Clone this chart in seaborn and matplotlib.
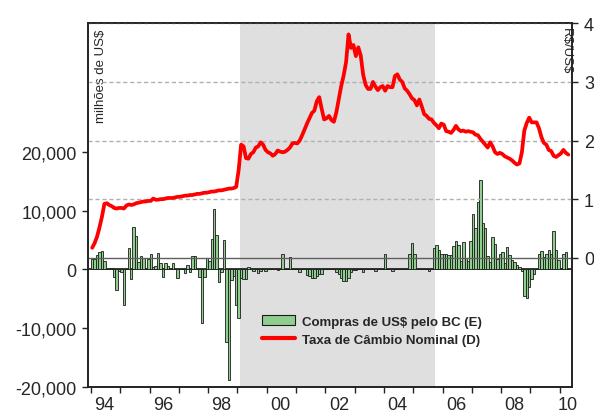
import numpy as np
import pandas as pd
import matplotlib
matplotlib.use("Agg")
import matplotlib.pyplot as plt
import seaborn as sns
from matplotlib.patches import Patch
from matplotlib.lines import Line2D

# monthly data, Jan 1994 - Apr 2010
start_month = "1994-01"

# BC purchases of US$ (millions), one row per year
compras = [
    1800, 1800, 2500, 3000, 3200, 1500, 0, 0, 250, -1200, -3500, -300,          # 1994
    -350, -6000, 0, 3600, -1600, 7300, 5700, 1300, 2300, 2000, 300, 1800,       # 1995
    2600, 500, 600, 2800, 1100, -1300, 1100, 600, 200, 1100, 0, -1400,          # 1996
    0, 0, -600, 700, -500, 2300, 2300, 0, -1200, -9100, -1200, 2000,            # 1997
    1400, 5200, 10300, 5900, -2200, -500, 5000, -12400, -18900, -1800, -1100, -6100,  # 1998
    -8300, -1400, -1600, -1700, 500, 0, -200, 0, -600, -300, 0, -200,           # 1999
    0, 0, 0, 0, -100, 0, 2600, 0, 0, 2100, 0, 0,                                # 2000
    0, -500, 0, 0, -1000, -1100, -1400, -1400, -1100, -850, -850, 0,            # 2001
    0, 100, 0, 0, -400, -700, -1400, -1900, -2000, -1400, -400, -150,           # 2002
    -150, 0, 0, -400, 0, 0, 0, 0, -200, 0, 0, 0,                                # 2003
    2700, 0, 0, -200, 0, 0, 0, 0, 0, 0, 2700, 4500,                             # 2004
    2700, 0, 0, 0, 0, 0, -200, 0, 3600, 4260, 3350, 2670,                       # 2005
    2560, 2560, 2440, 2500, 4030, 4940, 4260, 1530, 4710, 2000, 1500, 4940,     # 2006
    9490, 7100, 11530, 15280, 7950, 7100, 2270, 1300, 5500, 4370, 1870, 2560,   # 2007
    2900, 1190, 3800, 2400, 1700, 1300, 700, 400, -300, -4600, -4800, -3000,    # 2008
    -1700, -700, 0, 2700, 3200, 2100, 2600, 3400, 2600, 6600, 3400, 1600,       # 2009
    200, 2700, 2900, 0,                                                         # 2010
]

# nominal exchange rate R$/US$
cambio = [
    0.17, 0.25, 0.36, 0.52, 0.70, 0.92, 0.93, 0.90, 0.88, 0.85, 0.84, 0.85,     # 1994
    0.85, 0.84, 0.89, 0.91, 0.90, 0.91, 0.93, 0.94, 0.95, 0.96, 0.96, 0.97,     # 1995
    0.97, 1.01, 0.99, 0.99, 1.00, 1.00, 1.01, 1.02, 1.02, 1.02, 1.03, 1.04,     # 1996
    1.04, 1.05, 1.06, 1.06, 1.07, 1.07, 1.08, 1.09, 1.09, 1.10, 1.11, 1.11,     # 1997
    1.12, 1.13, 1.13, 1.14, 1.15, 1.15, 1.16, 1.17, 1.18, 1.18, 1.19, 1.21,     # 1998
    1.50, 1.93, 1.90, 1.70, 1.69, 1.77, 1.80, 1.88, 1.90, 1.97, 1.93, 1.84,     # 1999
    1.80, 1.78, 1.74, 1.77, 1.83, 1.81, 1.80, 1.81, 1.84, 1.88, 1.95, 1.96,     # 2000
    1.95, 2.00, 2.09, 2.19, 2.29, 2.38, 2.47, 2.51, 2.67, 2.74, 2.54, 2.36,     # 2001
    2.38, 2.42, 2.35, 2.32, 2.48, 2.71, 2.93, 3.11, 3.34, 3.81, 3.58, 3.63,     # 2002
    3.44, 3.59, 3.45, 3.12, 2.95, 2.88, 2.88, 3.00, 2.92, 2.86, 2.91, 2.93,     # 2003
    2.85, 2.93, 2.91, 2.91, 3.10, 3.13, 3.04, 3.00, 2.89, 2.85, 2.79, 2.72,     # 2004
    2.69, 2.60, 2.70, 2.58, 2.45, 2.42, 2.37, 2.36, 2.30, 2.26, 2.21, 2.29,     # 2005
    2.27, 2.16, 2.15, 2.13, 2.18, 2.25, 2.19, 2.16, 2.17, 2.15, 2.16, 2.15,     # 2006
    2.14, 2.10, 2.09, 2.03, 1.98, 1.93, 1.88, 1.97, 1.90, 1.80, 1.77, 1.79,     # 2007
    1.77, 1.73, 1.71, 1.69, 1.66, 1.62, 1.59, 1.61, 1.80, 2.17, 2.30, 2.39,     # 2008
    2.31, 2.31, 2.31, 2.21, 2.06, 1.96, 1.93, 1.84, 1.82, 1.74, 1.72, 1.75,     # 2009
    1.78, 1.84, 1.79, 1.76,                                                     # 2010
]

# shaded period (floating regime window)
shade_start = "1999-02"
shade_end = "2005-10"

years = list(range(1994, 2011))
label_years = [1994, 1996, 1998, 2000, 2002, 2004, 2006, 2008, 2010]
year_labels = ["94", "96", "98", "00", "02", "04", "06", "08", "10"]

legend_labels = ["Compras de US\\$ pelo BC (E)", "Taxa de Câmbio Nominal (D)"]

dates = pd.date_range(start_month, periods=len(compras), freq="MS")
df = pd.DataFrame({
    "t": dates.year + (dates.month - 0.5) / 12,
    "compras": compras,
    "cambio": cambio,
})


def to_year(s):
    d = pd.Timestamp(s)
    return d.year + (d.month - 1) / 12


sns.set_style("ticks")
plt.rcParams["font.family"] = ["Liberation Sans", "DejaVu Sans"]

bar_green = "#8fce8f"
frame_col = "#222222"

fig = plt.figure(figsize=(5.94, 4.14), dpi=100)
ax = fig.add_axes([0.1487, 0.0635, 0.8148, 0.8778])

ax.axvspan(to_year(shade_start), to_year(shade_end), color="#dfdfdf", lw=0, zorder=0)

sns.barplot(data=df, x="t", y="compras", native_scale=True, width=1.0,
            color=bar_green, saturation=1, edgecolor="#1a1a1a", linewidth=0.6,
            errorbar=None, ax=ax, zorder=3)
ax.axhline(0, color="black", lw=1.1, zorder=2)

ax.set_xlim(1993.91, 2010.43)
ax.set_ylim(-20000, 42000)
ax.set_yticks([-20000, -10000, 0, 10000, 20000])
ax.set_yticklabels([f"{v:,.0f}" for v in [-20000, -10000, 0, 10000, 20000]])
ax.set_xticks(years)
ax.set_xticklabels([])
ax.set_xticks([y + 0.46 if y < 2010 else y + 0.27 for y in label_years], minor=True)
ax.set_xticklabels(year_labels, minor=True)
ax.tick_params(axis="x", which="major", direction="out", length=4.5, width=1, color=frame_col)
ax.tick_params(axis="x", which="minor", length=0, pad=7, labelsize=13)
ax.tick_params(axis="y", direction="out", length=4.5, width=1, pad=4, labelsize=13, color=frame_col)
ax.set_xlabel("")
ax.set_ylabel("")
ax.grid(False)

ax2 = ax.twinx()
sns.lineplot(data=df, x="t", y="cambio", ax=ax2, color="#ff0000", linewidth=2.7,
             estimator=None, zorder=5)
ax2.set_ylim(-2.2, 4.0)
ax2.set_yticks([0, 1, 2, 3, 4])
ax2.tick_params(axis="y", direction="out", length=4.5, width=1, pad=4, labelsize=13, color=frame_col)
ax2.set_ylabel("")
ax2.grid(True, axis="y", color="#b0b0b0", linestyle=(0, (3, 2)), linewidth=1.0, zorder=1)
ax2.get_ygridlines()[0].set_linestyle("-")
ax2.get_ygridlines()[0].set_color("#606060")
ax2.set_xlim(ax.get_xlim())

for a in (ax, ax2):
    for sp in a.spines.values():
        sp.set_visible(True)
        sp.set_color(frame_col)
        sp.set_linewidth(1.2)

ax.text(0.026, 0.985, "milhões de US\\$", transform=ax.transAxes, rotation=90,
        ha="center", va="top", fontsize=9.5)
ax.text(0.987, 0.99, "R\\$/US\\$", transform=ax.transAxes, rotation=-90,
        ha="center", va="top", fontsize=9.5)

handles = [Patch(facecolor=bar_green, edgecolor="#1a1a1a", linewidth=0.8),
           Line2D([], [], color="#ff0000", linewidth=3)]
ax2.legend(handles, legend_labels, loc="upper left", bbox_to_anchor=(0.359, 0.197),
           frameon=False, borderaxespad=0, borderpad=0, handlelength=2.5,
           handleheight=0.75, handletextpad=0.5, labelspacing=0.45,
           prop={"weight": "bold", "size": 9.5})

fig.savefig("out.png", dpi=100)
